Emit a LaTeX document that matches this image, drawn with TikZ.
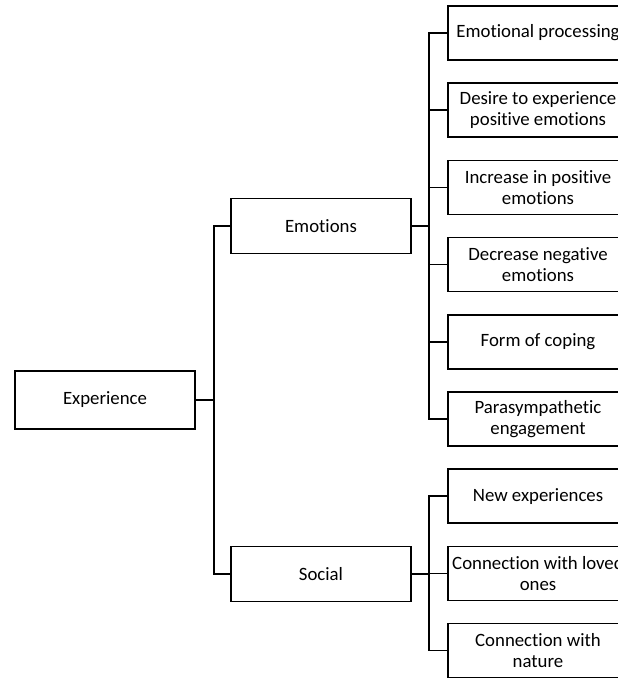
\documentclass[tikz,border=0pt]{standalone}
\usepackage{fontspec}
\setmainfont{Carlito}[Ligatures=NoCommon]
\usetikzlibrary{positioning,trees}
\tikzset{
  basic/.style  = {draw, line width=1.5pt, rectangle, align=center, inner sep=0pt,
                   font=\fontsize{18.8}{21}\selectfont},
  root/.style   = {basic, minimum width=180pt, minimum height=58pt},
  branch/.style = {basic, minimum width=180pt, minimum height=55pt},
  leaf/.style   = {basic, minimum width=180pt, minimum height=54pt},
  link/.style   = {draw, line width=1.5pt}
}

\begin{document}
\begin{tikzpicture}[x=1pt, y=1pt,
  grow'=east, level distance=216pt,
  level 1/.style={sibling distance=348pt},
  edge from parent/.style={link},
  edge from parent path={(\tikzparentnode.east) -- ++(18pt,0) |- (\tikzchildnode.west)}]

\useasboundingbox (0,0) rectangle (618,-678);
\clip (0,0) rectangle (618,-678);

% root of the tree, with its two branches
\node[root] (exp) at (105,-400) {Experience}
  child {node[branch] (emo) {Emotions}}
  child {node[branch] (soc) {Social}};

% the leaves, one column below the other
\begin{scope}[every node/.style={leaf}, node distance=77.2pt]
\node at (538,-33) (e1) {Emotional processing};
\node [below of = e1] (e2) {Desire to experience\\positive emotions};
\node [below of = e2] (e3) {Increase in positive\\emotions};
\node [below of = e3] (e4) {Decrease negative\\emotions};
\node [below of = e4] (e5) {Form of coping};
\node [below of = e5] (e6) {Parasympathetic\\engagement};

\node [below of = e6] (s1) {New experiences};
\node [below of = s1] (s2) {Connection with loved\\ones};
\node [below of = s2] (s3) {Connection with\\nature};
\end{scope}

% lines from each branch to its leaves
\foreach \value in {1,...,6}
  \draw[link] (emo.east) -- ++(17pt,0) |- (e\value.west);

\foreach \value in {1,...,3}
  \draw[link] (soc.east) -- ++(17pt,0) |- (s\value.west);
\end{tikzpicture}
\end{document}
